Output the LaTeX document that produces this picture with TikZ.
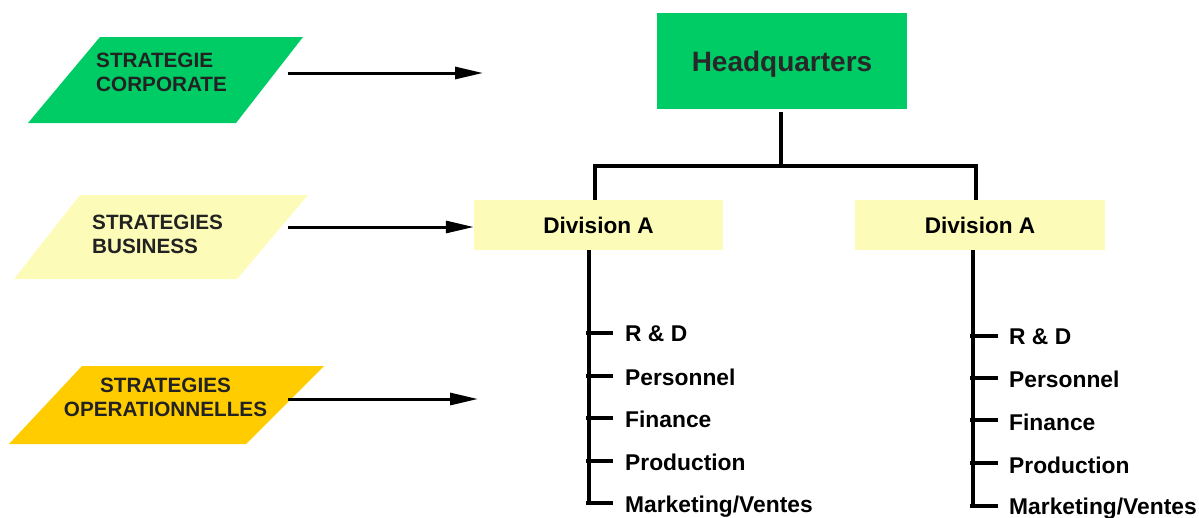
\documentclass[tikz,border=0pt]{standalone}
\usepackage{fontspec}
\setmainfont{Liberation Sans}
\usetikzlibrary{arrows.meta}
\definecolor{hqgreen}{RGB}{0,204,102}
\definecolor{paleyellow}{RGB}{252,252,184}
\definecolor{goldfill}{RGB}{255,204,0}
\definecolor{labelgray}{RGB}{34,34,34}
\definecolor{hqtext}{RGB}{40,40,40}
\begin{document}
\begin{tikzpicture}[x=1pt,y=-1pt,
  conn/.style={line width=3.2pt, black},
  arr/.style={line width=3pt, black, -{Triangle[length=28pt,width=12pt]}},
  orgbox/.style={inner sep=0pt, text height=16pt, text depth=0pt, font=\bfseries\fontsize{22.6}{26}\selectfont},
  item/.style={anchor=base west, inner sep=0pt, font=\bfseries\fontsize{22.8}{26}\selectfont},
  lbl/.style={inner sep=0pt, text=labelgray, font=\bfseries\fontsize{20.7}{24.5}\selectfont}]
\useasboundingbox (0,0) rectangle (1199,517);

% left parallelograms
\fill[hqgreen] (100,37) -- (303,37) -- (236,123) -- (28,123) -- cycle;
\fill[paleyellow] (80,195) -- (308,195) -- (237,279) -- (14,279) -- cycle;
\fill[goldfill] (82,366) -- (324,366) -- (246,444) -- (9,444) -- cycle;

\node[lbl, anchor=base west] (corp) at (96,67) {\begin{tabular}[t]{@{}l@{}}STRATEGIE\\CORPORATE\end{tabular}};
\node[lbl, anchor=base west] (bus) at (92,229) {\begin{tabular}[t]{@{}l@{}}STRATEGIES\\BUSINESS\end{tabular}};
\node[lbl, anchor=base] (ops) at (165.5,392) {\begin{tabular}[t]{@{}c@{}}STRATEGIES\\OPERATIONNELLES\end{tabular}};

% boxes
\node[orgbox, fill=hqgreen, minimum width=250pt, minimum height=96pt, text height=20pt, font=\bfseries\fontsize{28}{32}\selectfont, text=hqtext] (hq) at (782,61) {Headquarters};
\node[orgbox, fill=paleyellow, minimum width=249pt, minimum height=50pt] (dA) at (598.5,225) {Division A};
\node[orgbox, fill=paleyellow, minimum width=250pt, minimum height=50pt] (dB) at (980,225) {Division A};

% arrows
\coordinate (a1s) at (288,73);
\coordinate (a1e) at (483,73);
\coordinate (a2s) at (288,227);
\coordinate (a3s) at (288,399);
\coordinate (a3e) at (478,399);
\draw[arr] (a1s) -- (a1e);
\draw[arr] (a2s) -- (dA.west |- a2s);
\draw[arr] (a3s) -- (a3e);

% tree connectors
\coordinate (bar) at (781,166);
\draw[conn] (hq.south -| bar) ++(0,3) -- (bar);
\draw[conn] (595,200) -- (595,166) -- (976,166) -- (976,200);

% left trunk
\draw[conn] (589,250) -- (589,505);
\foreach \y in {333,376,418,461,503} \draw[conn] (586,\y) -- (613,\y);
\node[item] (la1) at (625,341) {R \& D};
\node[item] (la2) at (625,385) {Personnel};
\node[item] (la3) at (625,427) {Finance};
\node[item] (la4) at (625,470) {Production};
\node[item] (la5) at (625,512) {Marketing/Ventes};

% right trunk
\draw[conn] (973,250) -- (973,507);
\foreach \y in {336,378,420,463,506} \draw[conn] (970,\y) -- (998,\y);
\node[item] (lb1) at (1009,344) {R \& D};
\node[item] (lb2) at (1009,387) {Personnel};
\node[item] (lb3) at (1009,430) {Finance};
\node[item] (lb4) at (1009,473) {Production};
\node[item] (lb5) at (1009,514) {Marketing/Ventes};
\end{tikzpicture}
\end{document}
